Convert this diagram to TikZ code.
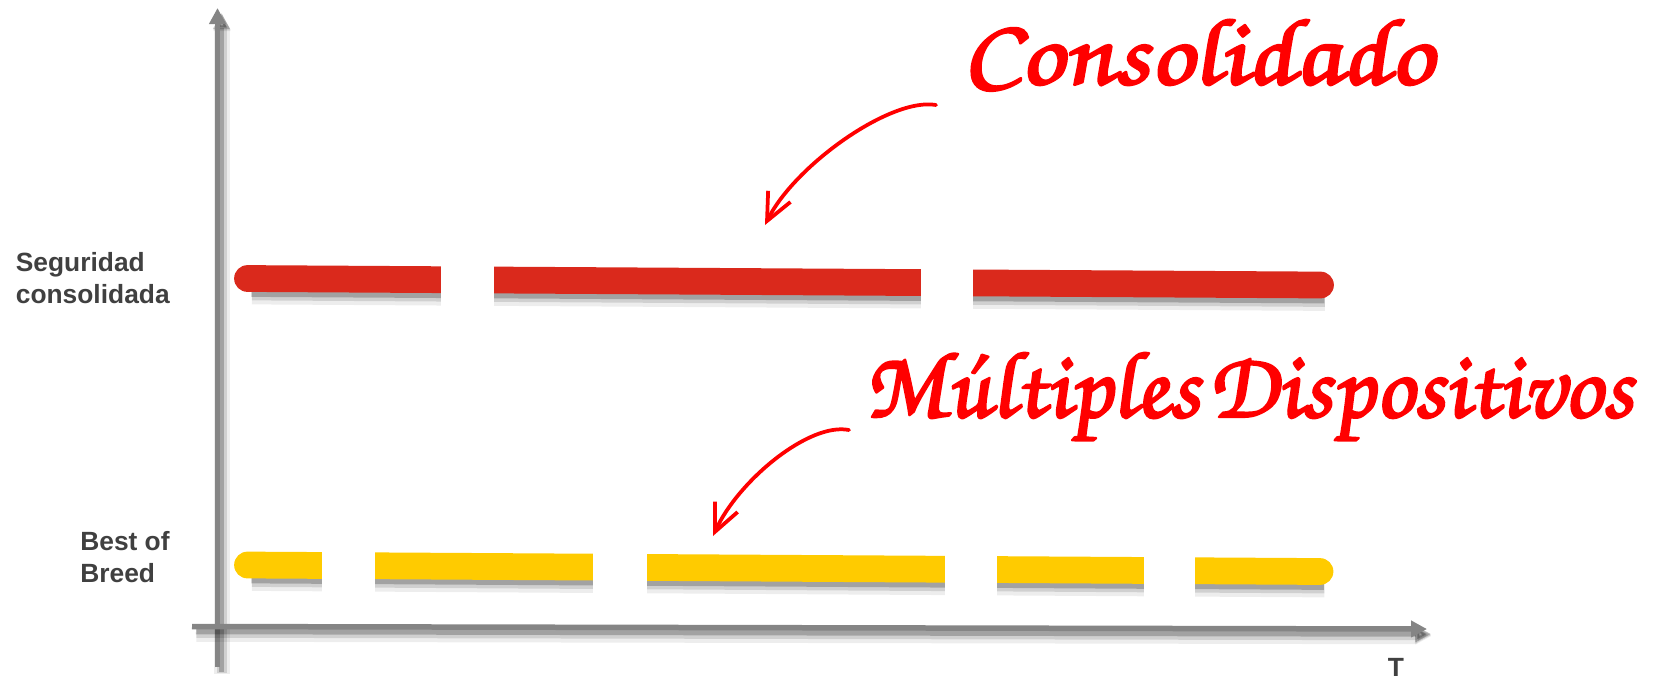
\documentclass[tikz,border=0pt]{standalone}
\usepackage{fontspec}
\setmainfont{Liberation Sans}
\newfontfamily\handfont[FakeBold=2.5,FakeSlant=-0.1]{TeX Gyre Chorus}
\usetikzlibrary{positioning,arrows.meta}

\definecolor{axisgray}{HTML}{858585}
\definecolor{barred}{HTML}{DA291C}
\definecolor{baryellow}{HTML}{FFCB00}
\definecolor{labelgray}{HTML}{404040}
\definecolor{notered}{HTML}{FF0000}

\begin{document}
\begin{tikzpicture}[x=0.02cm,y=-0.02cm,line join=round,
  soft shadow/.style={
    preaction={draw=black,opacity=0.07,line width=#1+0.22cm,transform canvas={shift={(0.09cm,-0.14cm)}}},
    preaction={draw=black,opacity=0.12,line width=#1+0.10cm,transform canvas={shift={(0.09cm,-0.12cm)}}},
    preaction={draw=black,opacity=0.22,line width=#1,transform canvas={shift={(0.08cm,-0.10cm)}}}},
  axis line/.style={draw=axisgray,line width=0.11cm,soft shadow=0.11cm},
  axis tip/.style={-{Triangle[length=0.32cm,width=0.32cm]}},
  bar line/.style={line width=0.535cm,line cap=round,soft shadow=0.535cm},
  gap box/.style={fill=white,draw=none},
  side label/.style={font=\bfseries\fontsize{15pt}{18pt}\selectfont,text=labelgray,align=left,inner sep=0pt},
  hand note/.style={font=\handfont\fontsize{54pt}{54pt}\selectfont,text=notered,inner sep=0pt},
  hand arrow/.style={draw=notered,line width=0.075cm,line cap=round,-{Straight Barb[length=0.55cm,width=0.5cm]}}]

  \useasboundingbox (0,0) rectangle (1654,681);

  \coordinate (y base) at (217.5,667);
  \coordinate (y top) at (217.5,8);
  \coordinate (x base) at (192,626.5);
  \coordinate (x end) at (1427,629);

  \draw[axis line,axis tip] (y base) -- (y top);
  \draw[axis line,axis tip] (x base) -- (x end);

  \coordinate (red start) at (247.5,278.5);
  \coordinate (red end) at (1320.5,285);
  \coordinate (yellow start) at (247.5,565);
  \coordinate (yellow end) at (1320,571.5);

  \draw[bar line,barred] (red start) -- (red end);
  \draw[bar line,baryellow] (yellow start) -- (yellow end);

  \fill[gap box] (441,260) rectangle (494,306);
  \fill[gap box] (921,262) rectangle (973,310);
  \fill[gap box] (322,549) rectangle (375,594);
  \fill[gap box] (593,551) rectangle (647,596);
  \fill[gap box] (945,553) rectangle (997,598);
  \fill[gap box] (1144,555) rectangle (1195,599);

  \node[side label,anchor=east] (seg label) at (170,278) {Seguridad\\consolidada};
  \node[side label,anchor=east] (bob label) at (170,557) {Best of\\Breed};
  \node[side label] (t label) at (1396,667) {T};

  \node[hand note,anchor=base west] (cons note) at (963,84) {\scalebox{1.16}[1]{Consolidado}};
  \node[hand note,anchor=base west] (multi note) at (866,417) {\scalebox{1.025}[1]{Múltiples\hspace{0.1em}Dispositivos}};

  \coordinate (cons tail) at (936,105);
  \coordinate (cons tip) at (765,225);
  \coordinate (multi tail) at (849,430);
  \coordinate (multi tip) at (713,536);

  \draw[hand arrow] (cons tail) .. controls +(-45,-8) and +(30,-60) .. (cons tip);
  \draw[hand arrow] (multi tail) .. controls +(-40,-8) and +(25,-55) .. (multi tip);
\end{tikzpicture}
\end{document}
